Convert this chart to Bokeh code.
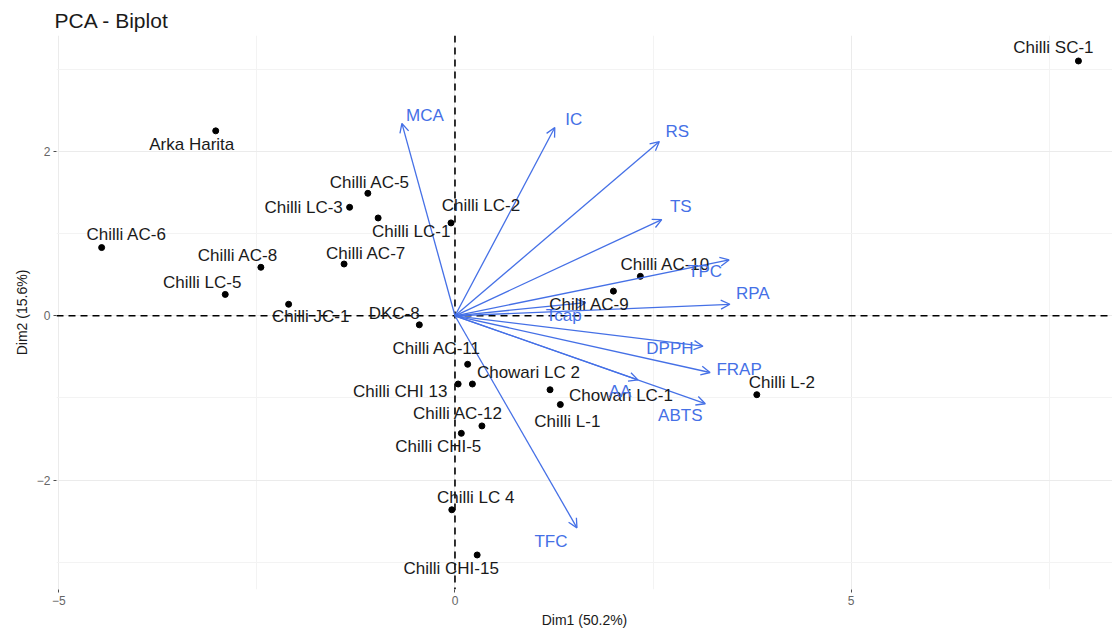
from bokeh.plotting import figure
from bokeh.models import ColumnDataSource, Arrow, OpenHead, Span, FixedTicker, LabelSet
from bokeh.core.properties import value
from bokeh.embed import file_html
from bokeh.resources import INLINE

# Individuals (Dim1, Dim2)
ind_names = ["Chilli SC-1", "Arka Harita", "Chilli AC-5", "Chilli LC-3", "Chilli LC-1",
             "Chilli LC-2", "Chilli AC-6", "Chilli AC-8", "Chilli AC-7", "Chilli LC-5",
             "Chilli JC-1", "DKC-8", "Chilli AC-10", "Chilli AC-9", "Chilli AC-11",
             "Chowari LC 2", "Chilli CHI 13", "Chowari LC-1", "Chilli L-1", "Chilli AC-12",
             "Chilli CHI-5", "Chilli LC 4", "Chilli CHI-15", "Chilli L-2"]
ind_dim1 = [7.87, -3.02, -1.10, -1.33, -0.97, -0.05, -4.46, -2.45, -1.40, -2.90,
            -2.10, -0.45, 2.34, 2.00, 0.16, 0.22, 0.04, 1.20, 1.33, 0.34,
            0.08, -0.04, 0.28, 3.81]
ind_dim2 = [3.10, 2.25, 1.49, 1.32, 1.19, 1.13, 0.83, 0.59, 0.63, 0.26,
            0.14, -0.11, 0.48, 0.30, -0.59, -0.83, -0.83, -0.90, -1.08, -1.34,
            -1.43, -2.36, -2.91, -0.96]

# Variables (arrow tips)
var_names = ["MCA", "IC", "RS", "TS", "TPC", "RPA", "Tcap", "DPPH", "FRAP", "AA", "ABTS", "TFC"]
var_dim1 = [-0.67, 1.26, 2.58, 2.61, 3.46, 3.47, 1.65, 3.13, 3.22, 2.31, 3.16, 1.54]
var_dim2 = [2.34, 2.29, 2.12, 1.17, 0.68, 0.14, 0.16, -0.37, -0.69, -0.78, -1.07, -2.58]

# label offsets in screen pixels (repelled label placement)
ind_dx = [-25, -24, 2, -46, 33, 30, 25, -23, 22, -23, 22, -25, 25, -24, -31, 56, -58, 71, 7, -24, -23, 24, -26, 25]
ind_dy = [13, -14, 11, 0, -14, 17, 13, 12, 11, 12, -12, 11, 12, -13, 16, 12, -7, -6, -17, 12, -13, 12, -14, 12]
var_dx = [23, 19, 18, 19, -24, 23, -22, -33, 29, -18, -25, -26]
var_dy = [8, 8, 10, 13, -12, 11, -13, -2, 3, -12, -12, -14]

BLUE = "#4570E6"
FONT = "Liberation Sans"

p = figure(width=1112, height=630, x_range=(-5.03, 8.30), y_range=(-3.33, 3.41),
           output_backend="svg", toolbar_location=None,
           min_border_left=56, min_border_right=0, min_border_top=35, min_border_bottom=32)

p.title.text = "PCA - Biplot"
p.title.text_font = FONT
p.title.text_font_size = "21px"
p.title.text_font_style = "normal"
p.title.text_color = "#1a1a1a"
p.title.offset = -2
p.title.standoff = 7

p.outline_line_color = None
p.background_fill_color = "white"

for ax in (p.xaxis, p.yaxis):
    ax.axis_line_color = None
    ax.major_tick_line_color = "#4d4d4d"
    ax.major_tick_out = 3
    ax.major_tick_in = 0
    ax.minor_tick_line_color = None
    ax.major_label_text_color = "#666666"
    ax.major_label_text_font = FONT
    ax.major_label_text_font_size = "12px"
    ax.major_label_standoff = 2
    ax.axis_label_text_font = FONT
    ax.axis_label_text_font_size = "14px"
    ax.axis_label_text_font_style = "normal"
    ax.axis_label_text_color = "#1a1a1a"
    ax.axis_label_standoff = 4

p.xaxis.ticker = FixedTicker(ticks=[-5, 0, 5], minor_ticks=[-2.5, 2.5, 7.5])
p.yaxis.ticker = FixedTicker(ticks=[-2, 0, 2], minor_ticks=[-3, -1, 1, 3])
p.xaxis.axis_label = "Dim1 (50.2%)"
p.yaxis.axis_label = "Dim2 (15.6%)"

for g in (p.xgrid, p.ygrid):
    g.grid_line_color = "#ebebeb"
    g.grid_line_width = 1
    g.minor_grid_line_color = "#f3f3f3"
    g.minor_grid_line_width = 1

p.add_layout(Span(location=0, dimension="width", line_color="black", line_dash="7 5", line_width=1.6))
p.add_layout(Span(location=0, dimension="height", line_color="black", line_dash="7 5", line_width=1.6))

ind_src = ColumnDataSource(dict(x=ind_dim1, y=ind_dim2, name=ind_names, dx=ind_dx, dy=ind_dy))
var_src = ColumnDataSource(dict(x0=[0] * len(var_names), y0=[0] * len(var_names),
                                x=var_dim1, y=var_dim2, name=var_names, dx=var_dx, dy=var_dy))

p.scatter("x", "y", source=ind_src, size=6, color="black")

p.add_layout(Arrow(end=OpenHead(size=9, line_color=BLUE, line_width=1.3),
                   x_start="x0", y_start="y0", x_end="x", y_end="y", source=var_src,
                   line_color=BLUE, line_width=1.3))

p.add_layout(LabelSet(x="x", y="y", text="name", source=ind_src, x_offset="dx", y_offset="dy",
                      text_align="center", text_baseline="middle", text_font=value(FONT),
                      text_font_size="17px", text_color="#1a1a1a"))
p.add_layout(LabelSet(x="x", y="y", text="name", source=var_src, x_offset="dx", y_offset="dy",
                      text_align="center", text_baseline="middle", text_font=value(FONT),
                      text_font_size="17px", text_color=BLUE))

open("out.html", "w").write(file_html(p, INLINE))
